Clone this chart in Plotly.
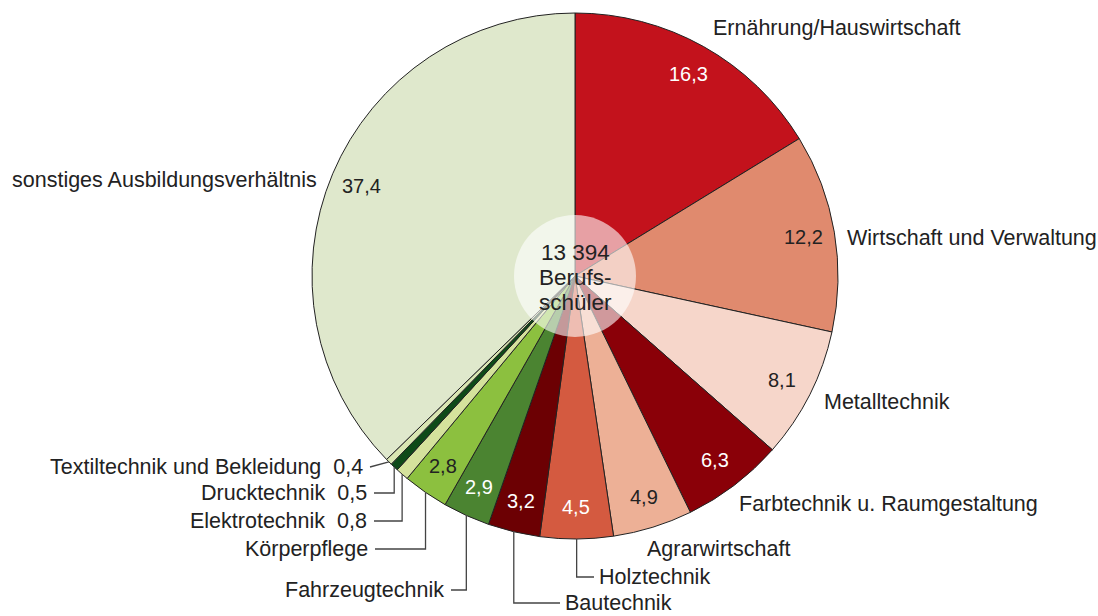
import math
import plotly.graph_objects as go

categories = ["Ernährung/Hauswirtschaft", "Wirtschaft und Verwaltung", "Metalltechnik",
              "Farbtechnik u. Raumgestaltung", "Agrarwirtschaft", "Holztechnik", "Bautechnik",
              "Fahrzeugtechnik", "Körperpflege", "Elektrotechnik", "Drucktechnik",
              "Textiltechnik und Bekleidung", "sonstiges Ausbildungsverhältnis"]
values = [16.3, 12.2, 8.1, 6.3, 4.9, 4.5, 3.2, 2.9, 2.8, 0.8, 0.5, 0.4, 37.4]
colors = ["#C3121C", "#E08A6E", "#F6D6CA", "#8A0008", "#EDB096", "#D45A40", "#6C0003",
          "#4B8431", "#8CC03F", "#D5E29C", "#0E4A18", "#D9E6B2", "#DFE8CC"]
value_text_colors = ["white", "#222", "#222", "white", "#222", "white", "white",
                     "white", "#222", None, None, None, "#222"]
center_lines = ["13 394", "Berufs-", "schüler"]

W, H = 1098, 616
CX, CY, R = 575, 276, 263

# label layout: (x, y, anchor, leader style)
label_layout = {
    "Ernährung/Hauswirtschaft": (714, 28, "left", None),
    "Wirtschaft und Verwaltung": (848, 238, "left", None),
    "Metalltechnik": (825, 402, "left", None),
    "Farbtechnik u. Raumgestaltung": (740, 504, "left", None),
    "Agrarwirtschaft": (648, 549, "left", None),
    "Holztechnik": (600, 577, "left", "elbow"),
    "Bautechnik": (566, 603, "left", "elbow"),
    "Fahrzeugtechnik": (443, 590, "right", "elbow"),
    "Körperpflege": (367, 549, "right", "elbow"),
    "Elektrotechnik": (366, 521, "right", "elbow"),
    "Drucktechnik": (366, 493, "right", "elbow"),
    "Textiltechnik und Bekleidung": (362, 467, "right", "straight"),
    "sonstiges Ausbildungsverhältnis": (316, 180, "right", None),
}
small_with_value = {"Elektrotechnik", "Drucktechnik", "Textiltechnik und Bekleidung"}

def px(x):
    return x / W

def py(y):
    return 1 - y / H

def fmt(v):
    return f"{v:.1f}".replace(".", ",")

FONT = "Liberation Sans, Arial, sans-serif"

fig = go.Figure(go.Pie(
    labels=categories, values=values, sort=False, direction="clockwise", rotation=0,
    marker=dict(colors=colors, line=dict(color="#222", width=1)),
    textinfo="none", hoverinfo="label+value",
    domain=dict(x=[px(CX - R), px(CX + R)], y=[py(CY + R), py(CY - R)]),
    showlegend=False,
))

total = sum(values)
annotations = []
shapes = []
cum = 0.0
for cat, v, tc in zip(categories, values, value_text_colors):
    mid = (cum + v / 2) / total * 2 * math.pi
    cum += v
    s, c = math.sin(mid), math.cos(mid)
    if tc is not None:
        rr = 0.88 * R
        annotations.append(dict(x=px(CX + rr * s), y=py(CY - rr * c), xref="paper", yref="paper",
                                xanchor="center", yanchor="middle",
                                text=fmt(v), showarrow=False, font=dict(size=20, color=tc, family=FONT)))
    lx, ly, anchor, leader = label_layout[cat]
    txt = cat + ("\u00a0\u00a0" + fmt(v) if cat in small_with_value else "")
    annotations.append(dict(x=px(lx), y=py(ly), xref="paper", yref="paper", text=txt, showarrow=False,
                            xanchor=anchor, yanchor="middle", xshift=-3 if anchor == "left" else 3,
                            font=dict(size=21.5, color="#222", family=FONT)))
    ex, ey = CX + R * s, CY - R * c
    if leader == "elbow":
        xend = lx - 6 if anchor == "left" else lx + 8
        path = f"M {px(ex)} {py(ey)} L {px(ex)} {py(ly)} L {px(xend)} {py(ly)}"
        shapes.append(dict(type="path", path=path, xref="paper", yref="paper",
                           line=dict(color="#444", width=1.3)))
    elif leader == "straight":
        shapes.append(dict(type="line", x0=px(lx + 8), y0=py(ly), x1=px(ex), y1=py(ey),
                           xref="paper", yref="paper", line=dict(color="#444", width=1.3)))

# centre disc
CR = 61
shapes.append(dict(type="circle", xref="paper", yref="paper",
                   x0=px(CX - CR), x1=px(CX + CR), y0=py(CY + CR), y1=py(CY - CR),
                   fillcolor="rgba(255,255,255,0.6)", line=dict(width=0), layer="above"))
for i, line in enumerate(center_lines):
    annotations.append(dict(x=px(CX), y=py(CY - 24 + 25 * i), xref="paper", yref="paper", text=line,
                            xanchor="center", yanchor="middle",
                            showarrow=False, font=dict(size=22.5, color="#222", family=FONT)))

fig.update_layout(width=W, height=H, margin=dict(l=0, r=0, t=0, b=0),
                  paper_bgcolor="white", plot_bgcolor="white",
                  shapes=shapes, annotations=annotations)
fig.write_html("out.html", config={"displayModeBar": False},
               post_script="document.body.style.margin='0';")
